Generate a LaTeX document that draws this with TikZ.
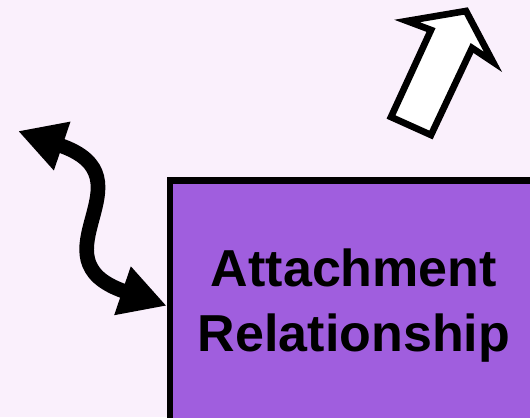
\documentclass[tikz,border=0pt]{standalone}
\usepackage{fontspec}
\setmainfont{Liberation Sans}
\usetikzlibrary{arrows.meta}
\definecolor{bgpink}{RGB}{250,240,252}
\definecolor{boxpurple}{RGB}{160,94,222}

\begin{document}
\begin{tikzpicture}[x=0.75pt,y=-0.75pt]
	\tikzstyle{box} = [rectangle, draw=black, line width=5pt, fill=boxpurple, minimum width=276pt, minimum height=188pt, align=center, inner sep=0pt, font=\fontsize{39}{48.75}\selectfont\bfseries]
	\tikzstyle{twoway} = [line width=11pt, {Triangle[length=35pt,width=36pt]}-{Triangle[length=35pt,width=36pt]}]
	\tikzstyle{bigarrow} = [line width=5pt, draw=black, fill=white, miter limit=10]
  \fill[bgpink] (0,0) rectangle (530,417);
  \useasboundingbox (0,0) rectangle (530,417);
  \clip (0,0) rectangle (530,417);
  \node(rel)[box] at (354,305.8) {Attachment\\Relationship};
  \coordinate(far) at (18,131);
  \draw [twoway] (far) .. controls +(138,47) and +(-138,-47) .. (rel.west);
  \draw [bigarrow] (466,11) -- (493,62) -- (472,48) -- (431,135) -- (391,117) -- (431,30) -- (407,21) -- cycle;
\end{tikzpicture}
\end{document}
